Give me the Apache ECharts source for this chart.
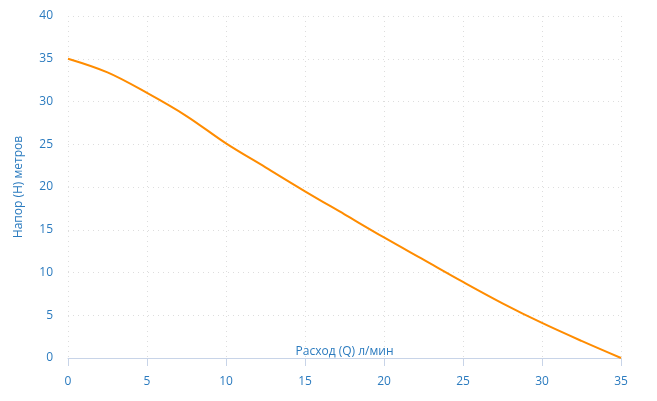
<!DOCTYPE html>
<html><head><meta charset="utf-8">
<script src="https://cdn.jsdelivr.net/npm/echarts@6/dist/echarts.min.js"></script>
<style>html,body{margin:0;padding:0;background:#fff}#c{width:657px;height:401px}</style>
</head><body><div id="c"></div>
<script>
const flow = [0, 2.5, 5, 7.5, 10, 12.5, 15, 17.5, 20, 22.5, 25, 27.5, 30, 32.5, 35];
const head = [35, 33.4, 31.0, 28.3, 25.1, 22.3, 19.5, 16.8, 14.1, 11.5, 8.9, 6.4, 4.1, 2.0, 0];
const xName = 'Расход (Q) л/мин';
const yName = 'Напор (Н) метров';
const blue = '#2b7bbf';
const font = 'Open Sans';
const chart = echarts.init(document.getElementById('c'));
chart.setOption({
  animation: false,
  grid: {left: 68, right: 36, top: 16, bottom: 43, containLabel: false, outerBoundsMode: 'none'},
  xAxis: {
    type: 'value', min: 0, max: 35, interval: 5,
    name: xName, nameLocation: 'middle', nameGap: -12, nameMoveOverlap: false,
    nameTextStyle: {color: blue, fontSize: 12, fontFamily: font},
    axisLine: {show: true, lineStyle: {color: '#c8d4e8', width: 1}},
    axisTick: {show: true, length: 8, lineStyle: {color: '#c8d4e8'}},
    axisLabel: {color: blue, fontSize: 12, fontFamily: font, margin: 18},
    splitLine: {show: true, lineStyle: {color: '#dddddd', type: [1, 4], width: 1}}
  },
  yAxis: {
    type: 'value', min: 0, max: 40, interval: 5,
    name: yName, nameLocation: 'middle', nameGap: 43, nameMoveOverlap: false,
    nameTextStyle: {color: blue, fontSize: 12, fontFamily: font},
    axisLine: {show: false}, axisTick: {show: false},
    axisLabel: {color: blue, fontSize: 12, fontFamily: font, margin: 15},
    splitLine: {show: true, lineStyle: {color: '#dddddd', type: [1, 4], width: 1}}
  },
  series: [{
    type: 'line', smooth: 0.35, showSymbol: false,
    data: flow.map((x, i) => [x, head[i]]),
    lineStyle: {color: '#ff8c00', width: 2}
  }]
});
</script></body></html>
